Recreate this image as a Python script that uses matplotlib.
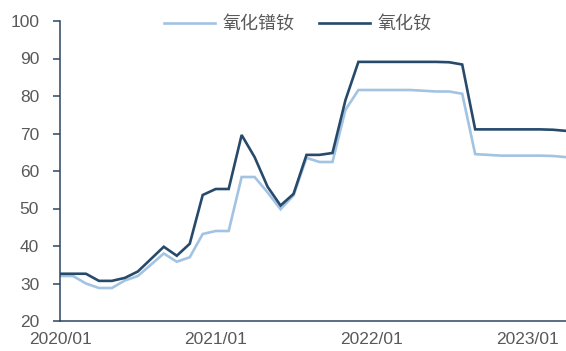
import matplotlib
matplotlib.use("Agg")
import matplotlib.pyplot as plt
import numpy as np

plt.rcParams['font.family'] = ['Liberation Sans', 'Noto Sans CJK SC', 'DejaVu Sans']

series_names = ["氧化镨钕", "氧化钕"]
# monthly values from 2020/01
praseo_nd = [32, 32, 30, 28.8, 28.8, 30.8, 32, 35, 38, 35.8, 37, 43.2,
             44, 44, 58.4, 58.4, 54.3, 49.8, 53.5, 63.5, 62.4, 62.4, 76.3, 81.6,
             81.6, 81.6, 81.6, 81.6, 81.4, 81.2, 81.2, 80.6, 64.5, 64.3, 64.1, 64.1,
             64.1, 64.1, 64.0, 63.7]
nd_oxide = [32.6, 32.6, 32.6, 30.7, 30.7, 31.5, 33.2, 36.5, 39.8, 37.4, 40.6, 53.6,
            55.2, 55.2, 69.6, 63.7, 55.8, 50.8, 53.9, 64.3, 64.3, 64.8, 78.9, 89.1,
            89.1, 89.1, 89.1, 89.1, 89.1, 89.1, 89.0, 88.4, 71.1, 71.1, 71.1, 71.1,
            71.1, 71.1, 71.0, 70.7]
xtick_pos = [0, 12, 24, 36]
xtick_labels = ["2020/01", "2021/01", "2022/01", "2023/01"]
yticks = [20, 30, 40, 50, 60, 70, 80, 90, 100]

light = "#A3C3E3"
dark = "#274A6B"
spine_c = "#2B4661"
text_c = "#595959"

fig = plt.figure(figsize=(5.66, 3.51), dpi=100)
ax = fig.add_axes([60/566, 1-321/351, 506/566, 300/351])
x = np.arange(len(nd_oxide))
ax.plot(x, praseo_nd, color=light, lw=1.9, label=series_names[0], solid_joinstyle='miter')
ax.plot(x, nd_oxide, color=dark, lw=1.9, label=series_names[1], solid_joinstyle='miter')

ax.set_xlim(0, len(nd_oxide) - 1)
ax.set_ylim(20, 100)
ax.set_yticks(yticks)
ax.set_xticks(xtick_pos)
ax.set_xticklabels(xtick_labels)

for s in ['top', 'right']:
    ax.spines[s].set_visible(False)
for s in ['left', 'bottom']:
    ax.spines[s].set_color(spine_c)
    ax.spines[s].set_linewidth(1.1)

ax.tick_params(axis='y', length=5, width=1.1, color=spine_c, labelsize=12.5,
               labelcolor=text_c, pad=10)
ax.tick_params(axis='x', length=0, labelsize=12.5, labelcolor=text_c, pad=8)

fig.legend(loc='center', bbox_to_anchor=(0.526, 0.929), ncol=2, frameon=False,
           fontsize=13, handlelength=2.83, handletextpad=0.39, columnspacing=1.4,
           labelcolor=text_c)

fig.savefig("out.png", dpi=100)
